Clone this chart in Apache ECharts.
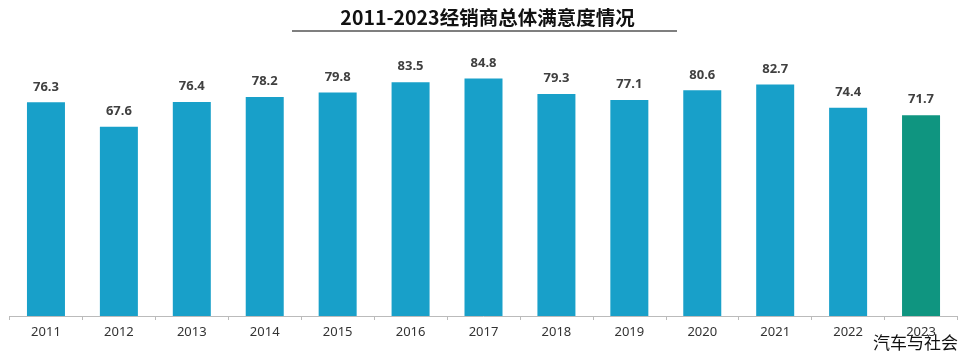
<!DOCTYPE html>
<html><head><meta charset="utf-8">
<script src="https://cdn.jsdelivr.net/npm/echarts@6/dist/echarts.min.js"></script>
<style>html,body{margin:0;padding:0;background:#fff}#c{width:975px;height:357px}</style>
</head><body><div id="c"></div>
<script>
const years = ['2011','2012','2013','2014','2015','2016','2017','2018','2019','2020','2021','2022','2023'];
const scores = [76.3,67.6,76.4,78.2,79.8,83.5,84.8,79.3,77.1,80.6,82.7,74.4,71.7];
const titleText = '2011-2023经销商总体满意度情况';
const watermark = '汽车与社会';
const blue = '#18A0C9', teal = '#0F9580';
const chart = echarts.init(document.getElementById('c'));
chart.setOption({
  animation:false,
  title:{text:titleText,left:'center',top:3,textStyle:{fontFamily:'Noto Sans CJK SC',fontSize:19.5,fontWeight:'bold',color:'#111'}},
  graphic:[
    {type:'line',shape:{x1:292,y1:31,x2:677,y2:31},style:{stroke:'#555',lineWidth:1.5}},
    {type:'text',right:17,bottom:6,style:{text:watermark,font:'17px "Noto Sans CJK SC"',fill:'#111'}}
  ],
  grid:{left:9.5,right:17.5,top:36,bottom:41},
  xAxis:{type:'category',data:years,
    axisLine:{lineStyle:{color:'#bbb'}},
    axisTick:{show:true,lineStyle:{color:'#bbb'},length:4},
    axisLabel:{color:'#333',fontSize:13,fontFamily:'Noto Sans',margin:10}},
  yAxis:{type:'value',min:0,max:100,show:false,splitLine:{show:false}},
  series:[{type:'bar',barWidth:38,
    data:scores.map((v,i)=>({value:v,itemStyle:{color:i===scores.length-1?teal:blue}})),
    label:{show:true,position:'top',distance:9,fontSize:13,fontWeight:'bold',color:'#404040',fontFamily:'Noto Sans',formatter:p=>p.value.toFixed(1)}
  }]
});
</script></body></html>
